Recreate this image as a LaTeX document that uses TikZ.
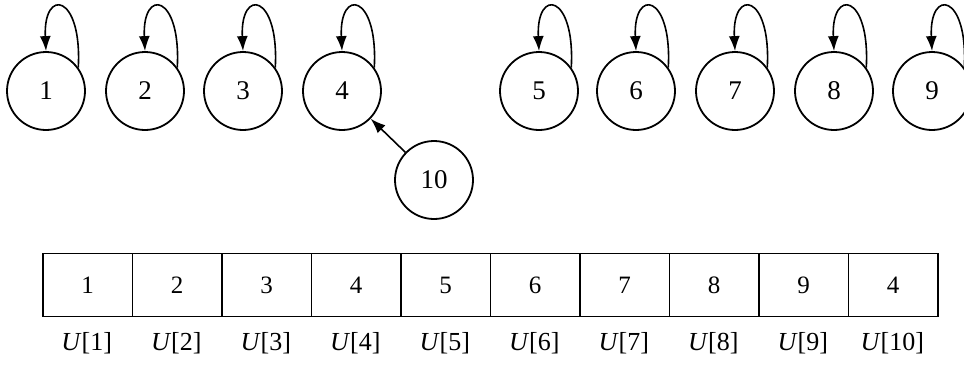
\documentclass[tikz,border=0pt]{standalone}
\usepackage{fontspec}
\setmainfont{Liberation Serif}
\usetikzlibrary{arrows.meta}
\begin{document}
\begin{tikzpicture}[x=1pt,y=-1pt,
  vtx/.style={draw,circle,line width=1.8pt,minimum size=78pt,inner sep=0pt,font=\fontsize{27}{27}\selectfont},
  arr/.style={line width=1.6pt,-{Latex[length=15pt,width=11pt]}},
  cell/.style={draw,line width=1.8pt,minimum width=89.5pt,minimum height=63pt,inner sep=0pt,anchor=west,font=\fontsize{25}{25}\selectfont},
  lab/.style={font=\fontsize{26}{26}\selectfont,inner sep=0pt}]
\useasboundingbox (0,0) rectangle (964,365);
% vertices
\foreach \i/\x in {1/46,2/145,3/243,4/342,5/539,6/636,7/735,8/834,9/932}{
  \node[vtx] (n\i) at (\x,91) {\i};
  \draw[arr] (n\i.36) .. controls +(4,-74) and +(-3,-64) .. (n\i.north);
}
\node[vtx] (n10) at (434,180) {10};
\draw[arr] (n10) -- (n4);
% array
\foreach \i/\v in {1/1,2/2,3/3,4/4,5/5,6/6,7/7,8/8,9/9,10/4}{
  \node[cell] (c\i) at ({42+89.5*(\i-1)},285) {\v};
  \node[lab] (l\i) at ({42+89.5*(\i-0.5)},343) {\textit{U}[\i]};
}
\end{tikzpicture}
\end{document}
